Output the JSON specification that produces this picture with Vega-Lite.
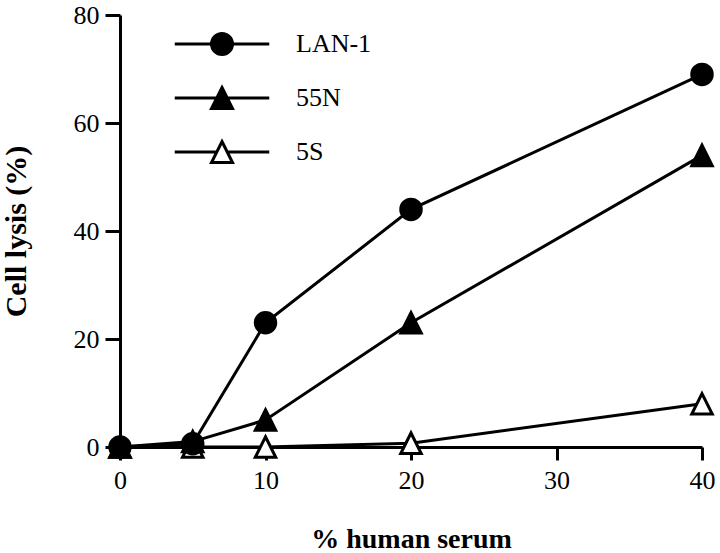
{
  "$schema": "https://vega.github.io/schema/vega-lite/v6.json",
  "width": 582,
  "height": 432,
  "autosize": {"type": "none"},
  "padding": {"left": 120, "top": 15, "right": 18, "bottom": 106},
  "background": "white",
  "config": {"view": {"stroke": null}, "font": "Liberation Serif"},
  "data": {
    "values": [
      {"series": "5S", "serum": 0, "lysis": 0},
      {"series": "5S", "serum": 5, "lysis": 0},
      {"series": "5S", "serum": 10, "lysis": 0},
      {"series": "5S", "serum": 20, "lysis": 0.7},
      {"series": "5S", "serum": 40, "lysis": 8},
      {"series": "55N", "serum": 0, "lysis": 0},
      {"series": "55N", "serum": 5, "lysis": 1},
      {"series": "55N", "serum": 10, "lysis": 5},
      {"series": "55N", "serum": 20, "lysis": 23},
      {"series": "55N", "serum": 40, "lysis": 54},
      {"series": "LAN-1", "serum": 0, "lysis": 0},
      {"series": "LAN-1", "serum": 5, "lysis": 0.6},
      {"series": "LAN-1", "serum": 10, "lysis": 23},
      {"series": "LAN-1", "serum": 20, "lysis": 44},
      {"series": "LAN-1", "serum": 40, "lysis": 69}
    ]
  },
  "encoding": {
    "x": {
      "field": "serum",
      "type": "quantitative",
      "scale": {"domain": [0, 40], "nice": false},
      "axis": {
        "values": [0, 10, 20, 30, 40],
        "title": "% human serum",
        "grid": false,
        "labelFlush": false,
        "domainColor": "black",
        "domainWidth": 3,
        "tickColor": "black",
        "tickWidth": 3,
        "tickSize": 13,
        "labelPadding": 7,
        "labelFont": "Liberation Serif",
        "labelFontSize": 26,
        "labelColor": "black",
        "titleFont": "Liberation Serif",
        "titleFontSize": 28,
        "titleFontWeight": "bold",
        "titleColor": "black",
        "titlePadding": 32
      }
    },
    "y": {
      "field": "lysis",
      "type": "quantitative",
      "scale": {"domain": [0, 80], "nice": false},
      "axis": {
        "values": [0, 20, 40, 60, 80],
        "title": "Cell lysis (%)",
        "grid": false,
        "domainColor": "black",
        "domainWidth": 3,
        "tickColor": "black",
        "tickWidth": 3,
        "tickSize": 15,
        "labelPadding": 6,
        "labelFont": "Liberation Serif",
        "labelFontSize": 26,
        "labelColor": "black",
        "titleFont": "Liberation Serif",
        "titleFontSize": 30,
        "titleFontWeight": "bold",
        "titleColor": "black",
        "titlePadding": 42
      }
    }
  },
  "resolve": {"scale": {"shape": "independent", "fill": "independent", "stroke": "independent"}},
  "layer": [
    {
      "mark": {"type": "point", "filled": true, "size": 441, "strokeWidth": 3, "opacity": 0},
      "encoding": {
        "shape": {
          "field": "series",
          "type": "nominal",
          "scale": {
            "domain": ["LAN-1", "55N", "5S"],
            "range": [
              "M-4.5,0L-1,0M1,0L4.5,0M-1,0A1,1,0,1,1,1,0A1,1,0,1,1,-1,0Z",
              "M-4.5,0L4.5,0M0,-1L1,1L-1,1Z",
              "M-4.5,0L-0.5,0M0.5,0L4.5,0M0,-1L1,1L-1,1Z"
            ]
          },
          "legend": {
            "orient": "none",
            "legendX": 49,
            "legendY": 16,
            "title": null,
            "padding": 0,
            "symbolSize": 441,
            "symbolOffset": 40,
            "labelOffset": 61,
            "rowPadding": 20,
            "symbolOpacity": 1,
            "symbolStrokeWidth": 3,
            "labelFont": "Liberation Serif",
            "labelFontSize": 26,
            "labelColor": "black"
          }
        },
        "fill": {
          "field": "series",
          "type": "nominal",
          "scale": {"domain": ["LAN-1", "55N", "5S"], "range": ["black", "black", "white"]},
          "legend": {
            "orient": "none",
            "legendX": 49,
            "legendY": 16,
            "title": null,
            "padding": 0,
            "symbolSize": 441,
            "symbolOffset": 40,
            "labelOffset": 61,
            "rowPadding": 20,
            "symbolOpacity": 1,
            "symbolStrokeWidth": 3,
            "labelFont": "Liberation Serif",
            "labelFontSize": 26,
            "labelColor": "black"
          }
        },
        "stroke": {
          "field": "series",
          "type": "nominal",
          "scale": {"domain": ["LAN-1", "55N", "5S"], "range": ["black", "black", "black"]},
          "legend": {
            "orient": "none",
            "legendX": 49,
            "legendY": 16,
            "title": null,
            "padding": 0,
            "symbolSize": 441,
            "symbolOffset": 40,
            "labelOffset": 61,
            "rowPadding": 20,
            "symbolOpacity": 1,
            "symbolStrokeWidth": 3,
            "labelFont": "Liberation Serif",
            "labelFontSize": 26,
            "labelColor": "black"
          }
        }
      }
    },
    {
      "mark": {"type": "line", "color": "black", "strokeWidth": 3},
      "encoding": {"detail": {"field": "series"}}
    },
    {
      "mark": {"type": "point", "filled": true, "size": 420, "stroke": "black", "strokeWidth": 3, "opacity": 1},
      "encoding": {
        "shape": {
          "field": "series",
          "type": "nominal",
          "scale": {"range": ["M0,-1L1,1H-1Z", "M0,-1L1,1H-1Z", "circle"]},
          "legend": null
        },
        "fill": {
          "field": "series",
          "type": "nominal",
          "scale": {"range": ["black", "white", "black"]},
          "legend": null
        }
      }
    }
  ]
}
